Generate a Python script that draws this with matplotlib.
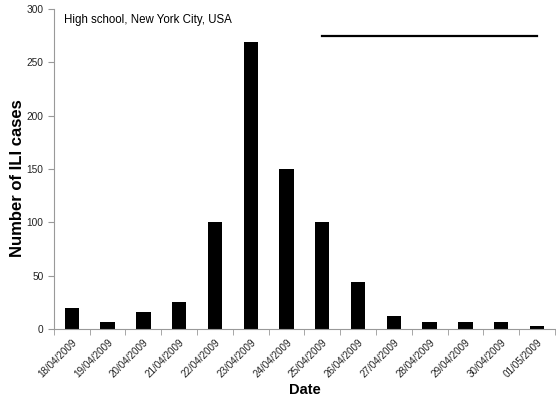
import matplotlib
matplotlib.use('Agg')
import matplotlib.pyplot as plt
import numpy as np

plt.rcParams['font.family'] = ['Liberation Sans', 'DejaVu Sans']

dates = ['18/04/2009', '19/04/2009', '20/04/2009', '21/04/2009', '22/04/2009',
         '23/04/2009', '24/04/2009', '25/04/2009', '26/04/2009', '27/04/2009',
         '28/04/2009', '29/04/2009', '30/04/2009', '01/05/2009']
cases = [20, 6, 16, 25, 100, 269, 150, 100, 44, 12, 6, 6, 6, 3]
# period marked by the horizontal line
line_start = '25/04/2009'
line_end = '01/05/2009'
line_level = 275

fig = plt.figure(figsize=(5.56, 4.03), dpi=100)
ax = fig.add_axes([0.097, 0.184, 0.901, 0.794])

x = np.arange(len(dates))
ax.bar(x, cases, width=0.4, color='black')
ax.plot([dates.index(line_start), dates.index(line_end)], [line_level, line_level],
        color='black', lw=1.6)

ax.set_xlim(-0.5, len(dates) - 0.5)
ax.set_ylim(0, 300)
ax.set_yticks(range(0, 301, 50))
ax.set_xticks(x)
ax.set_xticklabels(dates, rotation=45, ha='right', rotation_mode='anchor', fontsize=7.1, color='#222222')
ax.set_xticks(np.arange(-0.5, len(dates), 1), minor=True)
ax.tick_params(axis='x', which='major', length=0, pad=6)
ax.tick_params(axis='x', which='minor', length=4, color='#999999', direction='out')
ax.tick_params(axis='y', length=4, color='#999999', labelsize=7.3, labelcolor='#222222')

for s in ['top', 'right']:
    ax.spines[s].set_visible(False)
for s in ['left', 'bottom']:
    ax.spines[s].set_color('#999999')

ax.set_ylabel('Number of ILI cases', fontsize=12, fontweight='bold')
ax.yaxis.set_label_coords(-0.058, 0.472)
ax.set_xlabel('Date', fontsize=10.5, fontweight='bold')
ax.xaxis.set_label_coords(0.5, -0.17)
ax.text(0.02, 0.965, 'High school, New York City, USA', transform=ax.transAxes,
        fontsize=8.3, va='center', ha='left')

fig.savefig('out.png', dpi=100)
